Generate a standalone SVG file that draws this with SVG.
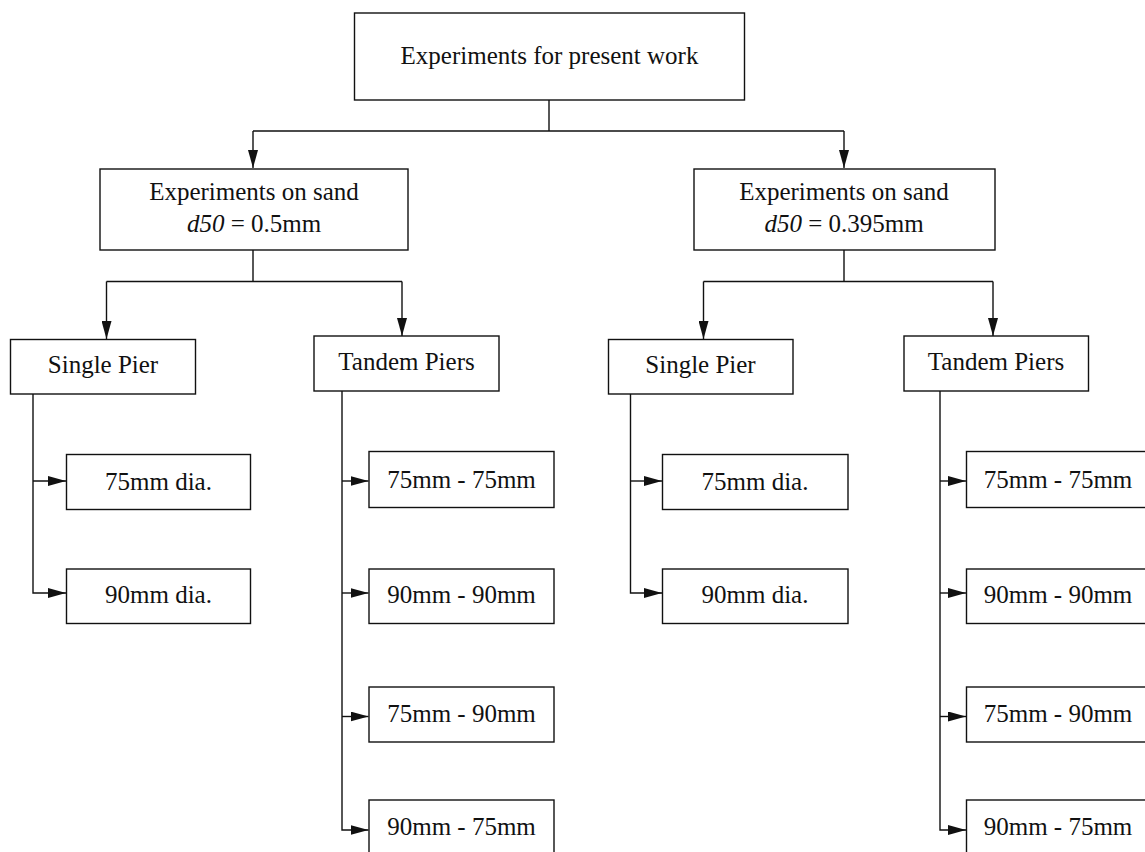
<svg xmlns="http://www.w3.org/2000/svg" width="1145" height="852" viewBox="0 0 1145 852">
<style>
.box{fill:#fff;stroke:#111;stroke-width:1.4}
.ln{fill:none;stroke:#111;stroke-width:1.4}
.ar{marker-end:url(#ah)}
text{font-family:"Liberation Serif","Times New Roman",serif;font-size:25px;fill:#111;text-anchor:middle}
.it{font-style:italic}
</style>
<defs>
<marker id="ah" markerUnits="userSpaceOnUse" markerWidth="18" markerHeight="10" refX="18" refY="5" orient="auto" viewBox="0 0 18 10">
<path d="M0,0 L18,5 L0,10 Z" fill="#111"/>
</marker>
</defs>
<rect width="1145" height="852" fill="#fff"/>
<g id="connectors">
<path class="ln" d="M549,100 V131 M253,131 H844"/>
<path class="ln ar" d="M253,131 V168"/>
<path class="ln ar" d="M844,131 V168"/>
<path class="ln" d="M253,250 V281.5 M106.5,281.5 H402"/>
<path class="ln ar" d="M106.5,281.5 V339"/>
<path class="ln ar" d="M402,281.5 V336"/>
<path class="ln" d="M844,250 V281.5 M703.5,281.5 H993"/>
<path class="ln ar" d="M703.5,281.5 V339"/>
<path class="ln ar" d="M993,281.5 V336"/>
<path class="ln ar" d="M33,394 V593 H66"/>
<path class="ln ar" d="M33,481 H66"/>
<path class="ln ar" d="M342,391 V830 H368.5"/>
<path class="ln ar" d="M342,481 H368.5"/>
<path class="ln ar" d="M342,593 H368.5"/>
<path class="ln ar" d="M342,716.5 H368.5"/>
<path class="ln ar" d="M630.5,394 V593 H662"/>
<path class="ln ar" d="M630.5,481 H662"/>
<path class="ln ar" d="M940,391 V830 H966"/>
<path class="ln ar" d="M940,481 H966"/>
<path class="ln ar" d="M940,593 H966"/>
<path class="ln ar" d="M940,716.5 H966"/>
</g>
<g id="root"><rect class="box" x="354.5" y="13" width="390" height="87"/><text x="549.5" y="64">Experiments for present work</text></g>
<g id="sand1"><rect class="box" x="100" y="169" width="308" height="81"/><text x="254" y="200">Experiments on sand</text><text x="254" y="232"><tspan class="it">d50</tspan> = 0.5mm</text></g>
<g id="sand2"><rect class="box" x="694" y="169" width="301" height="81"/><text x="844" y="200">Experiments on sand</text><text x="844" y="232"><tspan class="it">d50</tspan> = 0.395mm</text></g>
<g id="single1"><rect class="box" x="10.5" y="339.5" width="185" height="54.5"/><text x="103" y="373">Single Pier</text></g>
<g id="tandem1"><rect class="box" x="314" y="336" width="185" height="55"/><text x="406.5" y="370">Tandem Piers</text></g>
<g id="single2"><rect class="box" x="608.5" y="339.5" width="184.5" height="54.5"/><text x="700.5" y="373">Single Pier</text></g>
<g id="tandem2"><rect class="box" x="904" y="336" width="184.5" height="55"/><text x="996" y="370">Tandem Piers</text></g>
<g id="s1a"><rect class="box" x="66.5" y="454.5" width="184" height="55"/><text x="158.5" y="490">75mm dia.</text></g>
<g id="s1b"><rect class="box" x="66.5" y="569" width="184" height="54.5"/><text x="158.5" y="603">90mm dia.</text></g>
<g id="t1a"><rect class="box" x="369" y="451.5" width="185" height="56"/><text x="461.5" y="488">75mm - 75mm</text></g>
<g id="t1b"><rect class="box" x="369" y="569" width="185" height="54.5"/><text x="461.5" y="603">90mm - 90mm</text></g>
<g id="t1c"><rect class="box" x="369" y="687" width="185" height="55"/><text x="461.5" y="722">75mm - 90mm</text></g>
<g id="t1d"><rect class="box" x="369" y="800" width="185" height="56"/><text x="461.5" y="835">90mm - 75mm</text></g>
<g id="s2a"><rect class="box" x="662.5" y="454.5" width="185.5" height="55"/><text x="755" y="490">75mm dia.</text></g>
<g id="s2b"><rect class="box" x="662.5" y="569" width="185.5" height="54.5"/><text x="755" y="603">90mm dia.</text></g>
<g id="t2a"><rect class="box" x="966.5" y="451.5" width="185" height="56"/><text x="1058" y="488">75mm - 75mm</text></g>
<g id="t2b"><rect class="box" x="966.5" y="569" width="185" height="54.5"/><text x="1058" y="603">90mm - 90mm</text></g>
<g id="t2c"><rect class="box" x="966.5" y="687" width="185" height="55"/><text x="1058" y="722">75mm - 90mm</text></g>
<g id="t2d"><rect class="box" x="966.5" y="800" width="185" height="56"/><text x="1058" y="835">90mm - 75mm</text></g>
</svg>
